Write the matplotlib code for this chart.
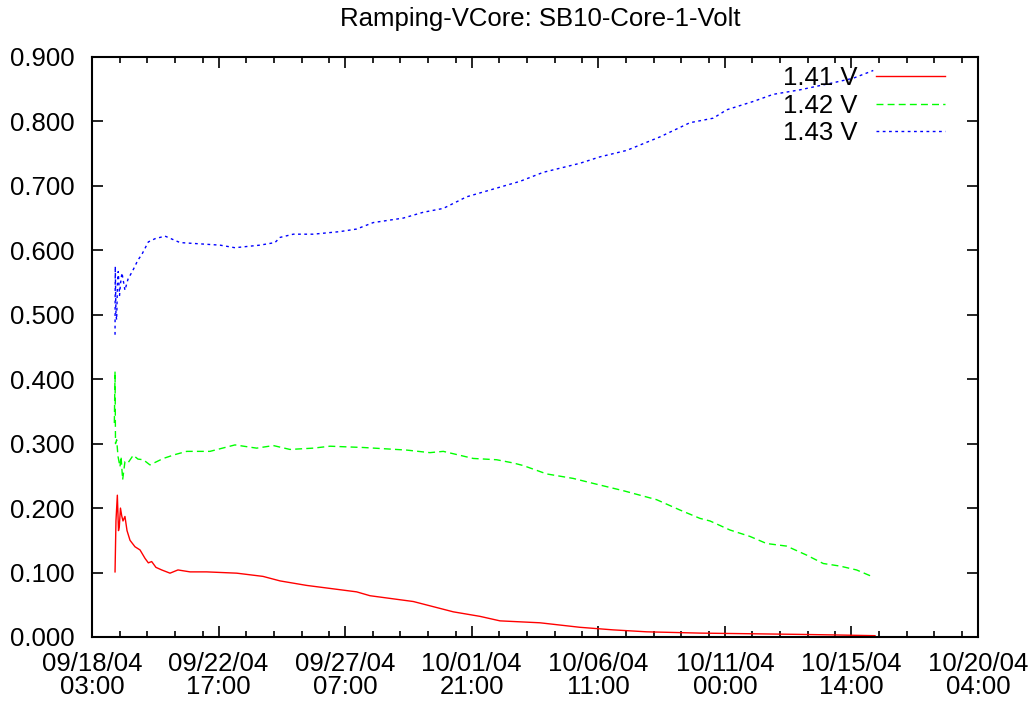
import numpy as np
import matplotlib
matplotlib.use("Agg")
import matplotlib.pyplot as plt
from matplotlib.ticker import FixedLocator, FixedFormatter

plt.rcParams['font.family'] = ['Liberation Sans', 'DejaVu Sans']

# time axis: hours since 09/18/04 03:00
x_span = 769
tick_labels = ["09/18/04\n03:00", "09/22/04\n17:00", "09/27/04\n07:00", "10/01/04\n21:00",
               "10/06/04\n11:00", "10/11/04\n00:00", "10/15/04\n14:00", "10/20/04\n04:00"]

red_h = [20.0, 20.8, 22.0, 23.0, 23.7, 24.7, 25.8, 26.9, 28.6, 30.4, 33.0, 37.3, 41.7, 46.0,
         48.9, 51.8, 55.5, 60.5, 67.7, 74.6, 85.1, 99.5, 125.6, 148.4, 163.2, 186.3, 229.7,
         241.3, 278.9, 313.6, 336.7, 354.1, 388.8, 423.5, 452.4, 481.4, 527.7, 571.1, 614.5,
         649.2, 679.6]
red_v = [0.101, 0.180, 0.220, 0.165, 0.171, 0.200, 0.188, 0.180, 0.187, 0.165, 0.150, 0.140,
         0.135, 0.122, 0.115, 0.117, 0.108, 0.104, 0.099, 0.104, 0.101, 0.101, 0.099, 0.094,
         0.087, 0.080, 0.070, 0.064, 0.055, 0.039, 0.032, 0.025, 0.022, 0.015, 0.011, 0.008,
         0.006, 0.005, 0.004, 0.003, 0.002]

green_h = [19.4, 20.0, 20.4, 21.4, 22.6, 24.3, 25.2, 26.6, 28.6, 31.2, 35.8, 39.9, 44.5, 50.3,
           61.9, 72.0, 82.2, 102.4, 124.1, 142.9, 157.4, 171.8, 192.1, 206.6, 235.5, 273.1,
           293.3, 304.9, 330.9, 351.2, 365.6, 374.3, 394.6, 417.7, 438.0, 461.1, 490.1, 510.3,
           527.7, 536.4, 553.7, 571.1, 585.5, 602.9, 620.3, 634.7, 649.2, 663.6, 678.1]
green_v = [0.332, 0.412, 0.300, 0.306, 0.280, 0.264, 0.280, 0.244, 0.272, 0.270, 0.282, 0.276,
           0.275, 0.267, 0.277, 0.283, 0.288, 0.288, 0.298, 0.293, 0.297, 0.291, 0.293, 0.296,
           0.294, 0.290, 0.286, 0.288, 0.277, 0.275, 0.270, 0.266, 0.253, 0.246, 0.237, 0.227,
           0.213, 0.197, 0.184, 0.180, 0.166, 0.156, 0.145, 0.141, 0.127, 0.114, 0.110, 0.104,
           0.093]

blue_h = [20.0, 20.2, 20.8, 21.4, 22.1, 22.8, 23.9, 24.8, 26.0, 28.6, 31.2, 35.8, 39.9, 43.1,
          48.9, 54.7, 63.4, 76.4, 93.7, 111.1, 124.1, 145.8, 158.8, 163.2, 174.7, 192.1, 215.2,
          229.7, 244.1, 270.2, 287.5, 304.9, 325.2, 348.3, 371.5, 391.7, 423.5, 440.9, 464.1,
          493.0, 519.0, 539.2, 550.9, 574.0, 591.3, 614.5, 643.4, 660.7, 678.1]
blue_v = [0.469, 0.575, 0.500, 0.492, 0.550, 0.567, 0.530, 0.549, 0.565, 0.538, 0.555, 0.570,
          0.585, 0.593, 0.613, 0.618, 0.622, 0.612, 0.610, 0.608, 0.604, 0.608, 0.612, 0.620,
          0.625, 0.625, 0.629, 0.633, 0.643, 0.650, 0.659, 0.665, 0.683, 0.695, 0.707, 0.721,
          0.735, 0.745, 0.755, 0.776, 0.798, 0.805, 0.818, 0.831, 0.842, 0.849, 0.860, 0.867,
          0.879]

fig = plt.figure(figsize=(10.36, 7.05), dpi=100)
ax = fig.add_axes([0.0888, 0.0965, 0.8552, 0.8227])

ax.plot(red_h, red_v, color='#ff0000', lw=1.0, ls='-', label='1.41 V')
ax.plot(green_h, green_v, color='#00ff00', lw=1.0, ls=(0, (5, 3)), label='1.42 V')
ax.plot(blue_h, blue_v, color='#0000ff', lw=1.0, ls=(0, (2, 2.5)), label='1.43 V')

ax.set_xlim(0, x_span)
ax.set_ylim(0, 0.9)

major = np.linspace(0, x_span, len(tick_labels))
minor = [m + d for m in major[:-1] for d in (24, 48, 72, 96)]
ax.xaxis.set_major_locator(FixedLocator(major))
ax.xaxis.set_major_formatter(FixedFormatter(tick_labels))
ax.xaxis.set_minor_locator(FixedLocator(minor))
ax.set_yticks(np.arange(0, 0.91, 0.1))
ax.set_yticklabels(["%.3f" % v for v in np.arange(0, 0.91, 0.1)])

ax.tick_params(which='both', direction='in', top=True, right=True, width=1.2,
               labelsize=18.5, colors='black')
ax.tick_params(which='major', length=8)
ax.tick_params(which='minor', length=4)
ax.tick_params(axis='x', which='major', pad=11)
ax.tick_params(axis='y', which='major', pad=12.5)
for lbl in ax.get_xticklabels():
    lbl.set_linespacing(0.95)
for s in ax.spines.values():
    s.set_linewidth(1.5)

ax.set_title("Ramping-VCore: SB10-Core-1-Volt", fontsize=18.5, pad=22, x=0.5056)

ax.legend(loc='upper right', bbox_to_anchor=(0.963, 0.985), frameon=False,
          markerfirst=False, fontsize=18.5, handlelength=2.7, handletextpad=0.7,
          labelspacing=0.15, borderpad=0, borderaxespad=0)

fig.savefig("out.png", dpi=100)
